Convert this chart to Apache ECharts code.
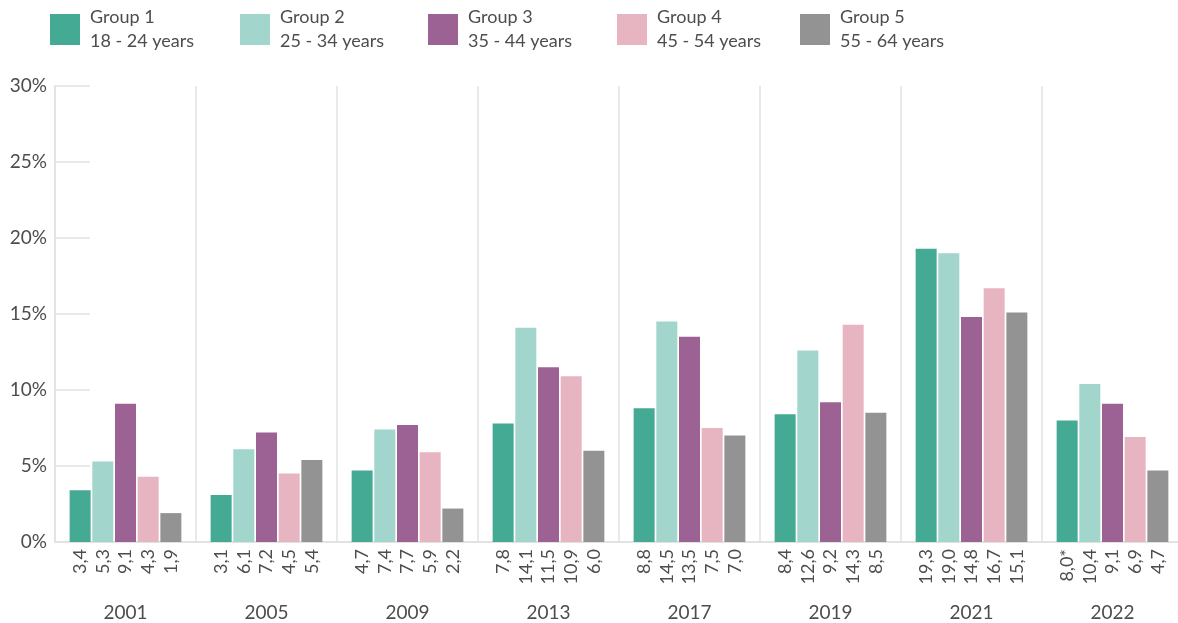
<!DOCTYPE html>
<html>
<head>
<meta charset="utf-8">
<script src="https://cdn.jsdelivr.net/npm/echarts@6/dist/echarts.min.js"></script>
<style>
  html, body { margin: 0; padding: 0; background: #ffffff; }
  #chart { width: 1178px; height: 623px; }
</style>
</head>
<body>
<div id="chart"></div>
<script>
// Survey years on the category axis
const years = ['2001', '2005', '2009', '2013', '2017', '2019', '2021', '2022'];

// Age groups (legend names and their age ranges)
const groupNames = ['Group 1', 'Group 2', 'Group 3', 'Group 4', 'Group 5'];
const groupAges = ['18 - 24 years', '25 - 34 years', '35 - 44 years', '45 - 54 years', '55 - 64 years'];

// Share per age group and year, in percent
const group1 = [3.4, 3.1, 4.7, 7.8, 8.8, 8.4, 19.3, 8.0];
const group2 = [5.3, 6.1, 7.4, 14.1, 14.5, 12.6, 19.0, 10.4];
const group3 = [9.1, 7.2, 7.7, 11.5, 13.5, 9.2, 14.8, 9.1];
const group4 = [4.3, 4.5, 5.9, 10.9, 7.5, 14.3, 16.7, 6.9];
const group5 = [1.9, 5.4, 2.2, 6.0, 7.0, 8.5, 15.1, 4.7];

// Footnote markers attached to single values (group index, year index)
const footnotes = [{ group: 0, year: 7, mark: '*' }];

// Y axis tick labels
const yTicks = ['0%', '5%', '10%', '15%', '20%', '25%', '30%'];

const groupValues = [group1, group2, group3, group4, group5];
const colors = ['#45aa94', '#a2d5cc', '#9c6294', '#e6b5c1', '#939393'];
const legendLefts = [50, 240, 428, 617, 800];

const FONT = 'Lato, "Open Sans", sans-serif';
const TEXT = '#4d4d4d';
const LINE = '#e2e2e2';

function fmt(v) {
  return v.toFixed(1).replace('.', ',');
}

const chart = echarts.init(document.getElementById('chart'), null, { renderer: 'canvas' });

const series = groupValues.map((vals, gi) => ({
  name: groupNames[gi],
  type: 'bar',
  data: vals,
  barWidth: 21,
  barGap: '8%',
  itemStyle: { color: colors[gi] },
  label: {
    show: true,
    position: 'bottom',
    distance: 7,
    rotate: 90,
    align: 'right',
    verticalAlign: 'middle',
    color: TEXT,
    fontFamily: FONT,
    fontSize: 18,
    formatter: p => {
      const note = footnotes.find(f => f.group === gi && f.year === p.dataIndex);
      return fmt(p.value) + (note ? note.mark : '');
    }
  },
  emphasis: { disabled: true }
}));

const legends = groupNames.map((name, gi) => ({
  data: [name],
  left: legendLefts[gi],
  top: 4,
  padding: 0,
  icon: 'rect',
  itemWidth: 30,
  itemHeight: 31,
  selectedMode: false,
  formatter: n => n + '\n' + groupAges[groupNames.indexOf(n)],
  textStyle: {
    color: TEXT,
    fontFamily: FONT,
    fontSize: 18,
    lineHeight: 24,
    padding: [3, 0, 0, 5]
  }
}));

chart.setOption({
  animation: false,
  textStyle: { fontFamily: FONT },
  legend: legends,
  grid: {
    left: 55,
    width: 1128,
    top: 86,
    bottom: 81,
    containLabel: false,
    outerBoundsMode: 'none'
  },
  xAxis: {
    type: 'category',
    data: years,
    boundaryGap: true,
    axisLine: { show: true, lineStyle: { color: LINE, width: 2 } },
    axisTick: { show: false },
    splitLine: { show: true, lineStyle: { color: LINE, width: 1.5 } },
    axisLabel: {
      color: TEXT,
      fontFamily: FONT,
      fontSize: 19,
      margin: 61
    }
  },
  yAxis: {
    type: 'value',
    min: 0,
    max: 30,
    interval: 5,
    axisLine: { show: true, lineStyle: { color: LINE, width: 1.5 } },
    axisTick: { show: true, inside: true, length: 35, lineStyle: { color: LINE, width: 1.5 } },
    splitLine: { show: false },
    axisLabel: {
      color: TEXT,
      fontFamily: FONT,
      fontSize: 19,
      margin: 8,
      formatter: v => yTicks[Math.round(v / 5)]
    }
  },
  series: series
});
</script>
</body>
</html>
